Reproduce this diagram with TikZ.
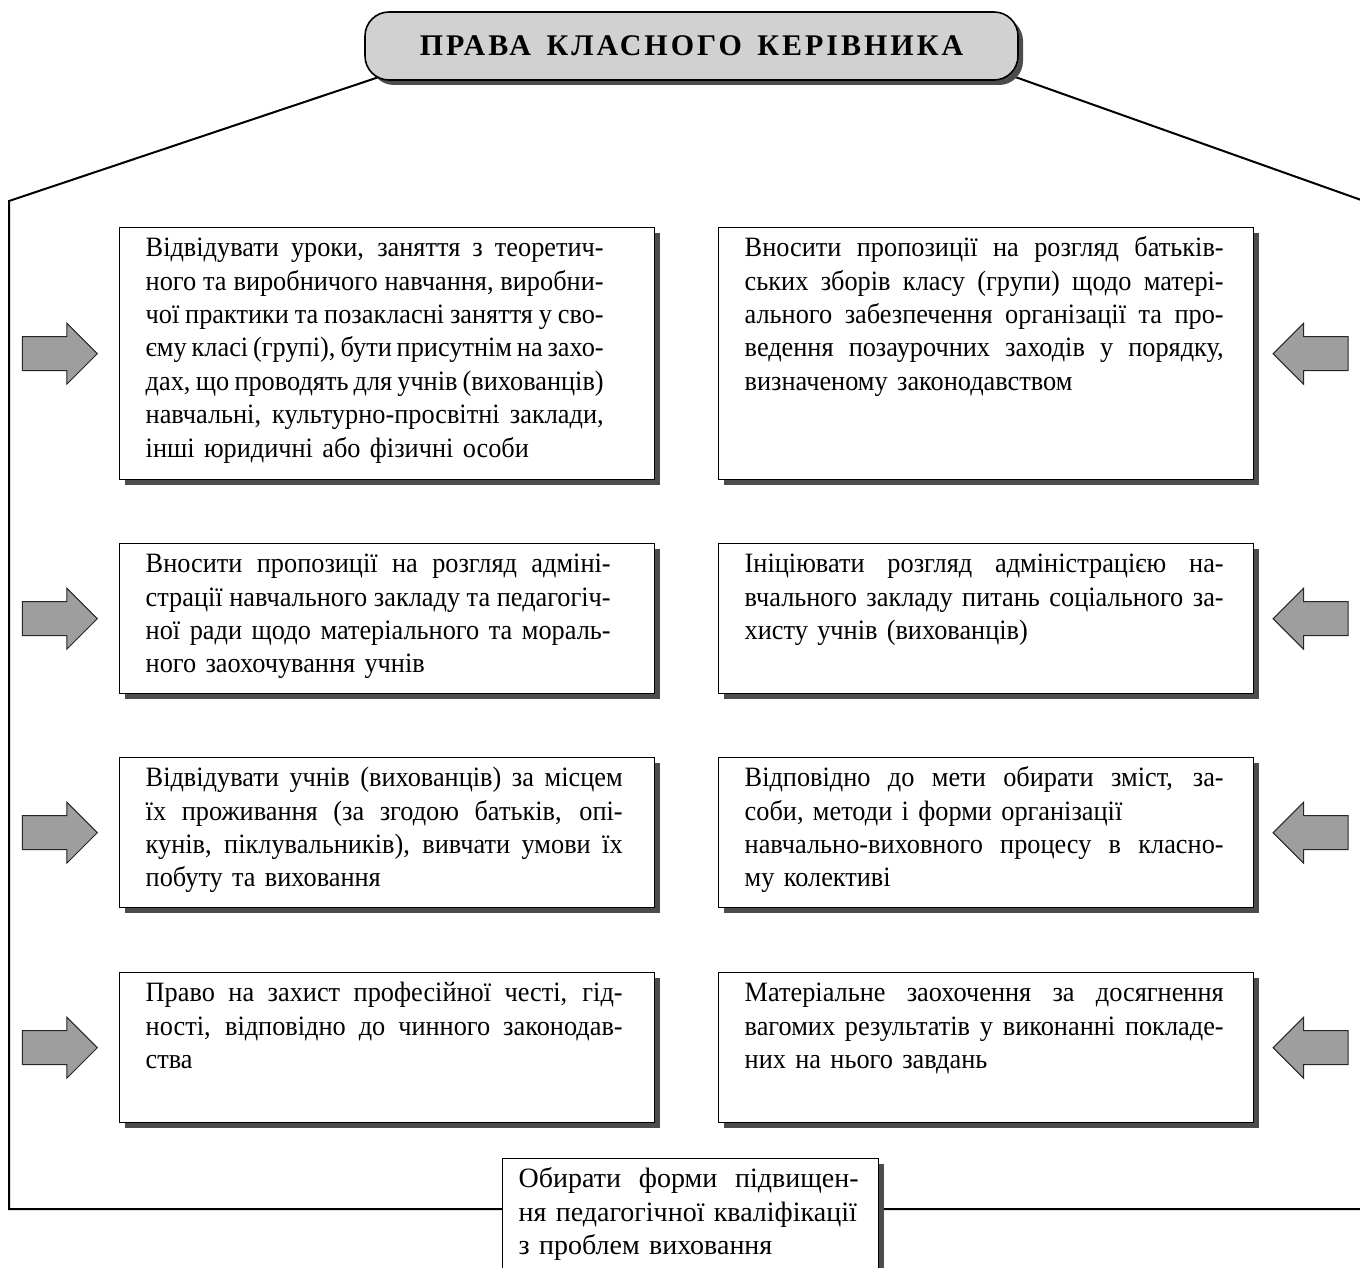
\documentclass[tikz,border=0pt]{standalone}
\usepackage{fontspec}
\setmainfont{Liberation Serif}
\newfontfamily\narrowfont[FakeStretch=0.94]{Liberation Serif}
\newfontfamily\titlefont[LetterSpace=10]{Liberation Serif}
\usetikzlibrary{positioning,shapes.arrows,shadows}

% one justified line of a box
\newcommand\jl[2][239.5pt]{\makebox[#1][s]{\spaceskip=0.25em plus 1fil minus 0.15em\relax #2}}

\tikzset{
  boxshadow/.style={drop shadow={shadow xshift=2.5pt,shadow yshift=-2.5pt,fill=black!70,opacity=1}},
  rightbox/.style={draw,line width=0.7pt,fill=white,boxshadow,anchor=north west,
    align=left,text width=241.5pt,minimum width=267.5pt,inner xsep=13pt,inner ysep=4pt,
    text height=10.5pt,text depth=56.5pt,font=\narrowfont\fontsize{14pt}{16.7pt}\selectfont},
  tallbox/.style={rightbox,text depth=107.5pt},
  fwdarrow/.style={single arrow,draw=black!85,fill=black!38,line width=0.5pt,
    minimum height=37.5pt,inner xsep=0pt,inner ysep=8.25pt,
    single arrow head extend=6.75pt,single arrow tip angle=90,single arrow head indent=0pt},
  backarrow/.style={fwdarrow,shape border rotate=180},
  frame/.style={line width=1pt}
}

\begin{document}
\begin{tikzpicture}[x=0.5pt,y=-0.5pt]
  \clip (0,0) rectangle (1360,1268);
  % outer frame
  \coordinate (tl) at (388,74);
  \coordinate (cl) at (9,201);
  \coordinate (bl) at (9,1209);
  \coordinate (tr) at (1004,73);
  \coordinate (cr) at (1364,201);
  \coordinate (br) at (1364,1209);
  \draw[frame] (tl) -- (cl) -- (bl) -- (br) -- (cr) -- (tr);
  % title
  \node[draw,line width=0.8pt,fill=black!18,rounded corners=12pt,boxshadow,
    minimum width=326.5pt,minimum height=34pt] (title) at (691.5,46)
    {\titlefont\bfseries\fontsize{15pt}{18pt}\selectfont ПРАВА\, КЛАСНОГО\, КЕРІВНИКА};
  % left column
  \node[tallbox] (l1) at (119,227) {\jl[229pt]{Відвідувати уроки, заняття з теоретич-}\\
    \jl[229pt]{ного та виробничого навчання, виробни-}\\
    \jl[229pt]{чої практики та позакласні заняття у сво-}\\
    \jl[229pt]{єму класі (групі), бути присутнім на захо-}\\
    \jl[229pt]{дах, що проводять для учнів (вихованців)}\\
    \jl[229pt]{навчальні, культурно-просвітні заклади,}\\
    інші юридичні або фізичні особи};
  \node[rightbox] (l2) at (119,543) {\jl[232.5pt]{Вносити пропозиції на розгляд адміні-}\\
    \jl[232.5pt]{страції навчального закладу та педагогіч-}\\
    \jl[232.5pt]{ної ради щодо матеріального та мораль-}\\
    ного заохочування учнів};
  \node[rightbox] (l3) at (119,757) {\jl[238.5pt]{Відвідувати учнів (вихованців) за місцем}\\
    \jl[238.5pt]{їх проживання (за згодою батьків, опі-}\\
    \jl[238.5pt]{кунів, піклувальників), вивчати умови їх}\\
    побуту та виховання};
  \node[rightbox] (l4) at (119,972) {\jl[238.5pt]{Право на захист професійної честі, гід-}\\
    \jl[238.5pt]{ності, відповідно до чинного законодав-}\\
    ства};
  % right column
  \node[tallbox] (r1) at (718,227) {\jl{Вносити пропозиції на розгляд батьків-}\\
    \jl{ських зборів класу (групи) щодо матері-}\\
    \jl{ального забезпечення організації та про-}\\
    \jl{ведення позаурочних заходів у порядку,}\\
    визначеному законодавством};
  \node[rightbox] (r2) at (718,543) {\jl{Ініціювати розгляд адміністрацією на-}\\
    \jl{вчального закладу питань соціального за-}\\
    хисту учнів (вихованців)};
  \node[rightbox] (r3) at (718,757) {\jl{Відповідно до мети обирати зміст, за-}\\
    соби, методи і форми організації\\
    \jl{навчально-виховного процесу в класно-}\\
    му колективі};
  \node[rightbox] (r4) at (718,972) {\jl{Матеріальне заохочення за досягнення}\\
    \jl{вагомих результатів у виконанні покладе-}\\
    них на нього завдань};
  % bottom
  \node[rightbox,text width=172pt,minimum width=188pt,inner xsep=8pt,text depth=70pt,
    font=\fontsize{14pt}{16.7pt}\selectfont] (b1) at (502,1158)
    {\jl[170pt]{Обирати форми підвищен-}\\
    ня педагогічної кваліфікації\\
    з проблем виховання};
  % arrows
  \foreach \n in {1,...,4} {
    \node[fwdarrow,left=10.5pt of l\n,anchor=tip] (al\n) {};
    \node[backarrow,right=9pt of r\n,anchor=tip] (ar\n) {};
  }
\end{tikzpicture}
\end{document}
